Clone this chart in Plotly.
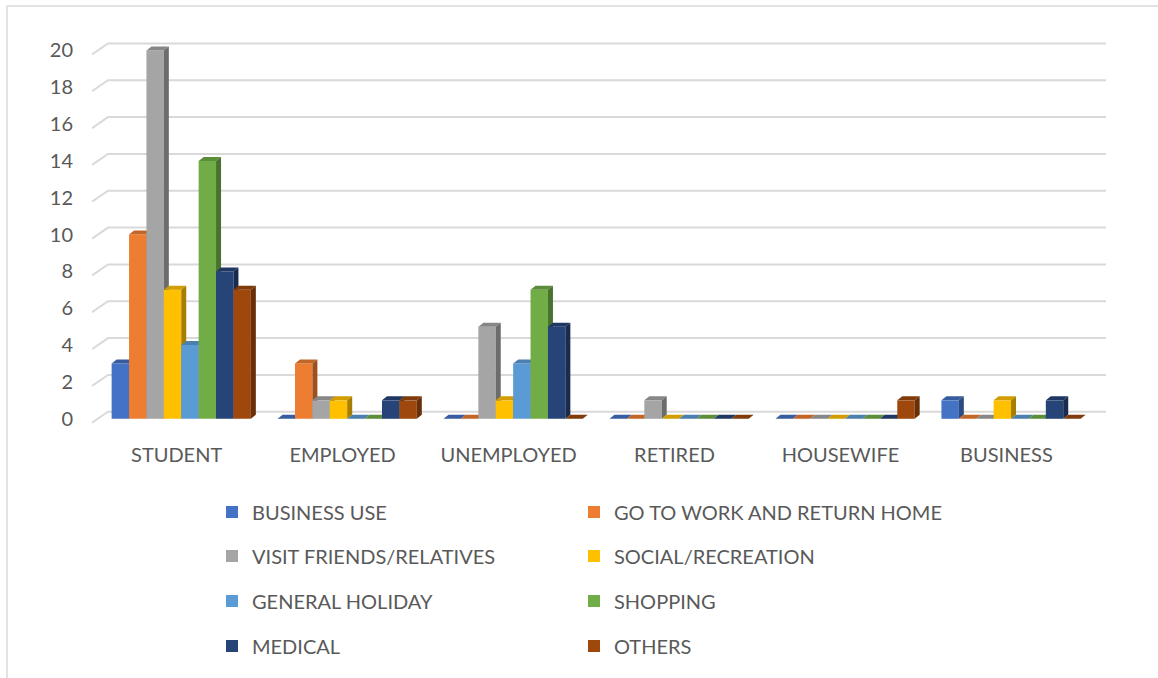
import plotly.graph_objects as go

# ---- data ----
categories = ["STUDENT", "EMPLOYED", "UNEMPLOYED", "RETIRED", "HOUSEWIFE", "BUSINESS"]
purposes = ["BUSINESS USE", "GO TO WORK AND RETURN HOME", "VISIT FRIENDS/RELATIVES",
            "SOCIAL/RECREATION", "GENERAL HOLIDAY", "SHOPPING", "MEDICAL", "OTHERS"]
business_use = [3, 0, 0, 0, 0, 1]
go_to_work = [10, 3, 0, 0, 0, 0]
visit_friends = [20, 1, 5, 1, 0, 0]
social_recreation = [7, 1, 1, 0, 0, 1]
general_holiday = [4, 0, 3, 0, 0, 0]
shopping = [14, 0, 7, 0, 0, 0]
medical = [8, 1, 5, 0, 0, 1]
others = [7, 1, 0, 0, 1, 0]
y_ticks = list(range(0, 21, 2))

series = [business_use, go_to_work, visit_friends, social_recreation,
          general_holiday, shopping, medical, others]
colors = ["#4472C4", "#ED7D31", "#A5A5A5", "#FFC000",
          "#5B9BD5", "#70AD47", "#264478", "#9E480E"]

# ---- geometry (plot area in pixels and derived data-unit sizes) ----
W, H = 1158, 678
M_L, M_R, M_T, M_B = 92, 52, 32, 250
X_RANGE = [-0.51, 5.6]
Y_RANGE = [-0.5, 21]
px_x = (W - M_L - M_R) / (X_RANGE[1] - X_RANGE[0])
px_y = (H - M_T - M_B) / (Y_RANGE[1] - Y_RANGE[0])

BAR_W = 17.4 / px_x            # width of one column
CLUSTER_START = -65 / px_x     # left edge of first column relative to category centre
DX = 5 / px_x                  # depth offset of the 3-D faces
DY = 4 / px_y


def shade(hex_color, f):
    r, g, b = (int(hex_color[i:i + 2], 16) for i in (1, 3, 5))
    return "#%02x%02x%02x" % (int(r * f), int(g * f), int(b * f))


fig = go.Figure()

# back-wall gridlines with a slanted lead-in from the axis
GRID_FRONT_DY = -4 / px_y
GRID_BACK_DY = 7 / px_y
GRID_BACK_X = X_RANGE[0] + 16 / px_x
gx, gy = [], []
for v in y_ticks:
    gx += [X_RANGE[0], GRID_BACK_X, X_RANGE[1], None]
    gy += [v + GRID_FRONT_DY, v + GRID_BACK_DY, v + GRID_BACK_DY, None]
fig.add_trace(go.Scatter(x=gx, y=gy, mode="lines", line=dict(color="#D9D9D9", width=2),
                         hoverinfo="skip", showlegend=False, zorder=0))

for s, (name, vals, col) in enumerate(zip(purposes, series, colors)):
    offset = CLUSTER_START + s * BAR_W
    z = s + 1
    # front faces
    fig.add_trace(go.Bar(
        x=list(range(len(categories))), y=vals, name=name,
        offset=offset, width=BAR_W, marker=dict(color=col, line=dict(width=0)),
        legend="legend" if s == 0 else f"legend{s + 1}", zorder=z,
    ))
    tx, ty, sx, sy = [], [], [], []
    for c, v in enumerate(vals):
        L = c + offset
        R = L + BAR_W
        tx += [L, R, R + DX, L + DX, L, None]
        ty += [v, v, v + DY, v + DY, v, None]
        if v > 0:
            sx += [R, R + DX, R + DX, R, R, None]
            sy += [0, DY, v + DY, v, 0, None]
    # top faces
    fig.add_trace(go.Scatter(x=tx, y=ty, mode="lines", fill="toself",
                             fillcolor=shade(col, 0.82), line=dict(width=0),
                             hoverinfo="skip", showlegend=False, zorder=z))
    # side faces
    if sx:
        fig.add_trace(go.Scatter(x=sx, y=sy, mode="lines", fill="toself",
                                 fillcolor=shade(col, 0.66), line=dict(width=0),
                                 hoverinfo="skip", showlegend=False, zorder=z))

FONT = "Lato"
TEXT_COL = "#595959"
FS = 20

layout = dict(
    width=W, height=H,
    margin=dict(l=M_L, r=M_R, t=M_T, b=M_B),
    paper_bgcolor="white", plot_bgcolor="white",
    barmode="overlay",
    font=dict(family=FONT, size=FS, color=TEXT_COL),
    xaxis=dict(range=X_RANGE, tickmode="array", tickvals=list(range(len(categories))),
               ticktext=categories, showgrid=False, zeroline=False, showline=False,
               ticks="", ticklabelstandoff=13, tickfont=dict(size=FS, color=TEXT_COL)),
    yaxis=dict(range=Y_RANGE, tickmode="array", tickvals=y_ticks,
               showgrid=False, zeroline=False, showline=False, ticks="",
               ticklabelstandoff=18, tickfont=dict(size=FS, color=TEXT_COL)),
    shapes=[
        dict(type="line", xref="paper", yref="paper",
             x0=(7 - M_L) / (W - M_L - M_R), x1=(W - M_L) / (W - M_L - M_R),
             y0=(H - M_B - 6) / (H - M_T - M_B), y1=(H - M_B - 6) / (H - M_T - M_B),
             line=dict(color="#D9D9D9", width=1.5)),
        dict(type="line", xref="paper", yref="paper",
             x0=(7 - M_L) / (W - M_L - M_R), x1=(7 - M_L) / (W - M_L - M_R),
             y0=(H - M_B - 6) / (H - M_T - M_B), y1=(-M_B) / (H - M_T - M_B),
             line=dict(color="#D9D9D9", width=1.5)),
    ],
)

# one legend per entry, laid out in two columns of four rows
col_px = [212, 574]
row_px = [512, 556, 601, 646]
for s in range(len(purposes)):
    key = "legend" if s == 0 else f"legend{s + 1}"
    lx = (col_px[s % 2] - M_L) / (W - M_L - M_R)
    ly = (H - M_B - row_px[s // 2]) / (H - M_T - M_B)
    layout[key] = dict(x=lx, y=ly, xanchor="left", yanchor="middle",
                       orientation="h", bgcolor="rgba(0,0,0,0)",
                       font=dict(family=FONT, size=FS, color=TEXT_COL))

fig.update_layout(**layout)
fig.write_html("out.html")
